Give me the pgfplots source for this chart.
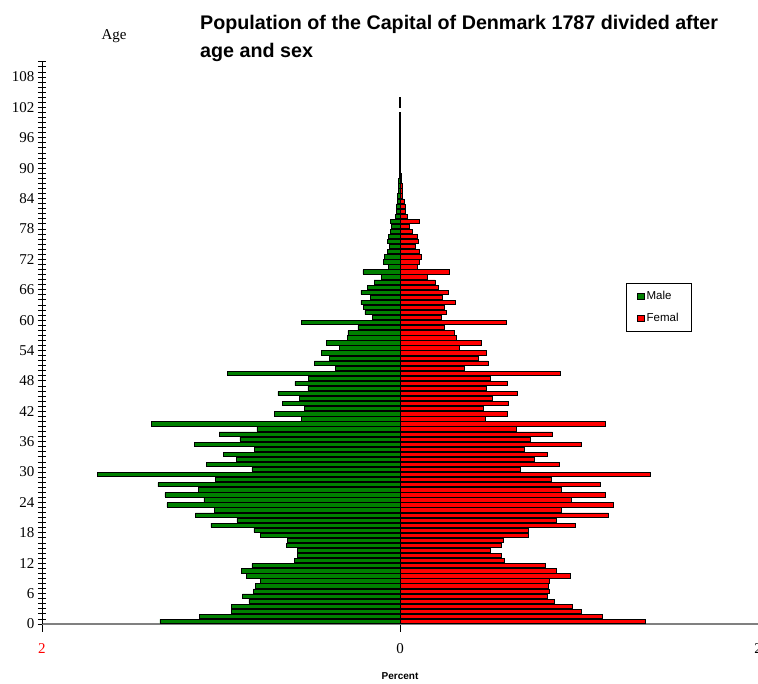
\documentclass[border=0pt]{standalone}
\usepackage{fontspec}
\setmainfont{Liberation Serif}
\newfontfamily\arial{Liberation Sans}
\usepackage{pgfplots}
\usepackage{pgfplotstable}
\pgfplotsset{compat=1.18}
\definecolor{mgreen}{RGB}{0,128,0}
\definecolor{fred}{RGB}{255,0,0}
\pgfplotstableread{
age male female
0 1.341 1.372
1 1.121 1.132
2 0.944 1.011
3 0.942 0.965
4 0.844 0.860
5 0.881 0.825
6 0.819 0.834
7 0.808 0.829
8 0.778 0.834
9 0.860 0.952
10 0.886 0.873
11 0.827 0.812
12 0.592 0.583
13 0.575 0.564
14 0.575 0.505
15 0.635 0.568
16 0.629 0.579
17 0.782 0.719
18 0.816 0.715
19 1.056 0.981
20 0.911 0.875
21 1.143 1.164
22 1.037 0.903
23 1.302 1.192
24 1.095 0.955
25 1.313 1.149
26 1.128 0.899
27 1.352 1.121
28 1.032 0.845
29 1.690 1.397
30 0.827 0.670
31 1.082 0.888
32 0.914 0.749
33 0.987 0.823
34 0.812 0.693
35 1.147 1.013
36 0.894 0.726
37 1.011 0.851
38 0.799 0.648
39 1.389 1.149
40 0.551 0.475
41 0.702 0.601
42 0.534 0.466
43 0.659 0.605
44 0.561 0.516
45 0.682 0.654
46 0.514 0.480
47 0.587 0.600
48 0.510 0.507
49 0.966 0.894
50 0.363 0.359
51 0.479 0.493
52 0.393 0.436
53 0.439 0.484
54 0.337 0.330
55 0.413 0.453
56 0.294 0.313
57 0.291 0.304
58 0.235 0.246
59 0.553 0.596
60 0.156 0.233
61 0.196 0.261
62 0.205 0.248
63 0.218 0.309
64 0.164 0.235
65 0.218 0.270
66 0.184 0.214
67 0.145 0.196
68 0.106 0.153
69 0.207 0.274
70 0.067 0.097
71 0.093 0.106
72 0.088 0.117
73 0.071 0.108
74 0.060 0.084
75 0.070 0.100
76 0.065 0.097
77 0.052 0.069
78 0.047 0.050
79 0.052 0.106
80 0.024 0.040
81 0.020 0.030
82 0.020 0.028
83 0.015 0.022
84 0.012 0.016
85 0.011 0.013
86 0.009 0.011
87 0.007 0.009
88 0.005 0.007
89 0.004 0.005
90 0.003 0.003
91 0.003 0.003
92 0.003 0.003
93 0.002 0.003
94 0.002 0.002
95 0.002 0.002
96 0.002 0.002
97 0.002 0.002
98 0.002 0.002
99 0.002 0.002
100 0.002 0.002
102 0.002 0.002
103 0.002 0.002
}\pop
\pgfplotsset{sqleg/.style={legend image code/.code={\draw[##1,draw=black,line width=0.8pt] (0pt,-3.2pt) rectangle (6.4pt,3.2pt);}}}
\begin{document}
\begin{tikzpicture}[x=1pt,y=1pt]
\useasboundingbox (0,0) rectangle (758,684);
\begin{axis}[
  at={(42pt,60pt)}, anchor=south west,
  scale only axis, width=716pt, height=562.2pt,
  xmin=-2, xmax=2, ymin=0, ymax=111,
  axis x line*=bottom, axis y line*=left,
  x axis line style={draw=gray, line width=1.8pt, -},
  y axis line style={draw=black, line width=0.9pt, -},
  xtick={-2,0,2}, xticklabels={\textcolor{red}{2},0,2},
  ytick={0,6,...,108}, minor ytick={0,1,...,111},
  tick align=center,
  major tick length=8pt, minor tick length=8pt,
  tick style={black, line width=0.8pt},
  xtick style={yshift=-4pt},
  /pgf/number format/assume math mode=true,
  ticklabel style={font=\fontsize{15}{18}\selectfont},
  xticklabel style={yshift=-12pt},
  legend style={at={(axis cs:1.2626,67.3)}, anchor=north west, draw=black, line width=0.8pt,
    font=\arial\fontsize{11.5}{13}\selectfont, inner xsep=11pt, inner ysep=6pt, row sep=8pt,
    legend cell align=left},
]
\addplot[xbar, sqleg, bar shift=0pt, bar width=4.3pt, fill=mgreen, draw=black, line width=0.8pt]
  table[x expr=-\thisrow{male}, y expr=\thisrow{age}+0.5] {\pop};
\addlegendentry{Male}
\addplot[xbar, sqleg, bar shift=0pt, bar width=4.3pt, fill=fred, draw=black, line width=0.8pt]
  table[x=female, y expr=\thisrow{age}+0.5] {\pop};
\addlegendentry{Femal}
\end{axis}
\node[anchor=base west, inner sep=0, font=\arial\bfseries\fontsize{19.7}{24}\selectfont] at (200,654) {Population of the Capital of Denmark 1787 divided after};
\node[anchor=base west, inner sep=0, font=\arial\bfseries\fontsize{19.7}{24}\selectfont] at (200,626) {age and sex};
\node[anchor=base, inner sep=0, font=\fontsize{15}{18}\selectfont] at (114,644) {Age};
\node[anchor=base, inner sep=0, font=\arial\bfseries\fontsize{10}{12}\selectfont] at (400,4) {Percent};
\end{tikzpicture}
\end{document}
